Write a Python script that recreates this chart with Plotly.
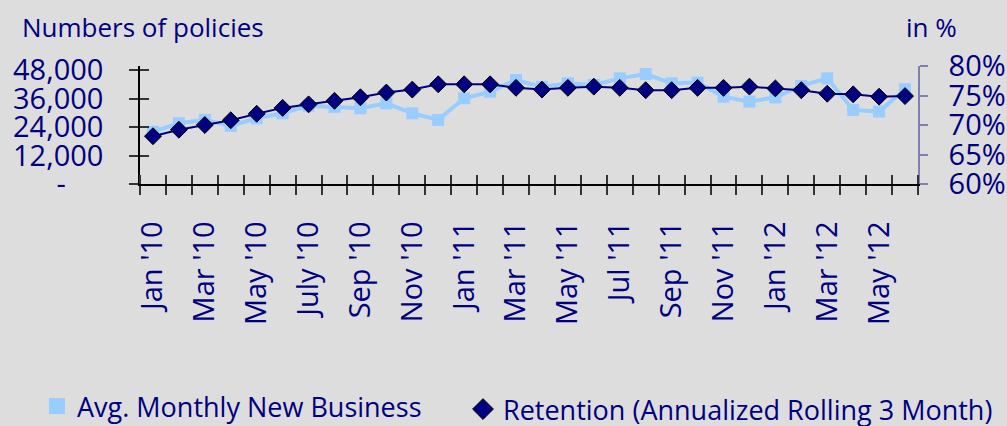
import plotly.graph_objects as go

# Monthly series, Jan 2010 - Jun 2012
months = [
    "Jan '10", "Feb '10", "Mar '10", "Apr '10", "May '10", "Jun '10",
    "Jul '10", "Aug '10", "Sep '10", "Oct '10", "Nov '10", "Dec '10",
    "Jan '11", "Feb '11", "Mar '11", "Apr '11", "May '11", "Jun '11",
    "Jul '11", "Aug '11", "Sep '11", "Oct '11", "Nov '11", "Dec '11",
    "Jan '12", "Feb '12", "Mar '12", "Apr '12", "May '12", "Jun '12",
]
new_business = [
    22000, 25600, 27000, 24500, 27700, 29800,
    33000, 32500, 31900, 34000, 29800, 27000,
    36100, 38900, 43800, 40900, 42400, 41700,
    44500, 46300, 42400, 42700, 36800, 34700,
    36500, 41300, 44500, 31200, 30500, 39900,
]
retention = [
    68.1, 69.2, 70.0, 70.8, 71.9, 72.9,
    73.5, 74.1, 74.7, 75.5, 76.0, 76.9,
    76.9, 76.9, 76.3, 76.0, 76.3, 76.5,
    76.3, 75.9, 75.9, 76.3, 76.3, 76.5,
    76.2, 75.9, 75.3, 75.2, 74.8, 74.9,
]
tick_labels = [
    "Jan '10", "Mar '10", "May '10", "July '10", "Sep '10", "Nov '10",
    "Jan '11", "Mar '11", "May '11", "Jul '11", "Sep '11", "Nov '11",
    "Jan '12", "Mar '12", "May '12",
]
count_ticks = [0, 12000, 24000, 36000, 48000]
count_tick_text = ["-\u00a0\u00a0\u00a0\u00a0\u00a0", "12,000", "24,000", "36,000", "48,000"]
pct_ticks = [60, 65, 70, 75, 80]
pct_tick_text = ["60%", "65%", "70%", "75%", "80%"]

# Page geometry (pixels)
W, H = 1007, 426
ML, MR, MT, MB = 140, 89, 66, 242
PW, PH = W - ML - MR, H - MT - MB


def paper_x(px):
    return (px - ML) / PW


def paper_y(py):
    return (H - MB - py) / PH


NAVY = "#000080"
LIGHT_BLUE = "#99CCFF"
BG = "#DDDDDD"
FONT = "Open Sans"

idx = list(range(len(months)))
x_range = [-0.5, len(months) - 0.5]
count_range = [0, 49700]

fig = go.Figure()

# Avg. monthly new business (left axis)
fig.add_trace(go.Scatter(
    x=idx, y=new_business, mode="lines+markers",
    line=dict(color=LIGHT_BLUE, width=4),
    marker=dict(symbol="square", size=12, color=LIGHT_BLUE),
    showlegend=False, hoverinfo="skip", xaxis="x", yaxis="y",
))
# Retention (right axis)
fig.add_trace(go.Scatter(
    x=idx, y=retention, mode="lines+markers",
    line=dict(color=NAVY, width=2),
    marker=dict(symbol="diamond", size=13, color=NAVY, line=dict(color="black", width=1)),
    showlegend=False, hoverinfo="skip", xaxis="x", yaxis="y2",
))
# Legend entries (marker only)
fig.add_trace(go.Scatter(
    x=[None], y=[None], mode="markers", name="Avg. Monthly New Business",
    marker=dict(symbol="square", size=20, color=LIGHT_BLUE),
    legend="legend", xaxis="x", yaxis="y",
))
fig.add_trace(go.Scatter(
    x=[None], y=[None], mode="markers", name="Retention (Annualized Rolling 3 Month)",
    marker=dict(symbol="diamond", size=16, color=NAVY, line=dict(color="black", width=1)),
    legend="legend2", xaxis="x", yaxis="y2",
))
# Carrier for the inner halves of the crossing tick marks
fig.add_trace(go.Scatter(
    x=[None], y=[None], mode="markers", showlegend=False, hoverinfo="skip",
    xaxis="x2", yaxis="y3",
))

tick_font = dict(family=FONT, size=29, color=NAVY)

fig.update_layout(
    width=W, height=H, autosize=False,
    margin=dict(l=ML, r=MR, t=MT, b=MB, pad=0, autoexpand=False),
    paper_bgcolor=BG, plot_bgcolor=BG,
    font=dict(family=FONT, color=NAVY),
    xaxis=dict(
        range=x_range, tickmode="array", tickvals=idx[::2], ticktext=tick_labels,
        tickangle=-90, tickfont=tick_font, ticks="", ticklabelstandoff=24,
        minor=dict(tick0=-0.5, dtick=1, ticks="outside", ticklen=9,
                   tickcolor="#333333", tickwidth=1.5, showgrid=False),
        showline=True, linecolor="black", linewidth=1.5,
        showgrid=False, zeroline=False, fixedrange=True,
    ),
    xaxis2=dict(
        range=x_range, overlaying="x", anchor="y", side="bottom",
        showticklabels=False, ticks="",
        minor=dict(tick0=-0.5, dtick=1, ticks="inside", ticklen=9,
                   tickcolor="#333333", tickwidth=1.5, showgrid=False),
        showline=False, showgrid=False, zeroline=False,
    ),
    yaxis=dict(
        range=count_range, tickmode="array", tickvals=count_ticks, ticktext=count_tick_text,
        tickfont=tick_font, ticks="outside", ticklen=9, tickcolor="#333333", tickwidth=1.5,
        ticklabelstandoff=20,
        showline=True, linecolor="black", linewidth=1.5,
        showgrid=False, zeroline=False,
    ),
    yaxis3=dict(
        range=count_range, overlaying="y", anchor="x", side="left",
        tickmode="array", tickvals=count_ticks, showticklabels=False,
        ticks="inside", ticklen=9, tickcolor="#333333", tickwidth=1.5,
        showline=False, showgrid=False, zeroline=False,
    ),
    yaxis2=dict(
        range=[60, 80], overlaying="y", side="right", anchor="x",
        tickmode="array", tickvals=pct_ticks, ticktext=pct_tick_text,
        tickfont=dict(family=FONT, size=29, color=NAVY),
        ticks="outside", ticklen=8, tickcolor="#8080B0", tickwidth=1.5,
        ticklabelstandoff=15,
        showline=True, linecolor="#8080B0", linewidth=1.5,
        showgrid=False, zeroline=False,
    ),
    legend=dict(
        x=paper_x(37), y=paper_y(382), xanchor="left", yanchor="top",
        orientation="h", bgcolor="rgba(0,0,0,0)",
        font=dict(family=FONT, size=27, color=NAVY),
    ),
    legend2=dict(
        x=paper_x(463), y=paper_y(385), xanchor="left", yanchor="top",
        orientation="h", bgcolor="rgba(0,0,0,0)",
        font=dict(family=FONT, size=27, color=NAVY),
    ),
    annotations=[
        dict(text="Numbers of policies", xref="paper", yref="paper",
             x=paper_x(20), y=paper_y(27), xanchor="left", yanchor="middle",
             showarrow=False, font=dict(family=FONT, size=26, color=NAVY)),
        dict(text="in %", xref="paper", yref="paper",
             x=paper_x(904), y=paper_y(27), xanchor="left", yanchor="middle",
             showarrow=False, font=dict(family=FONT, size=26, color=NAVY)),
    ],
)

fig.write_html("out.html")
